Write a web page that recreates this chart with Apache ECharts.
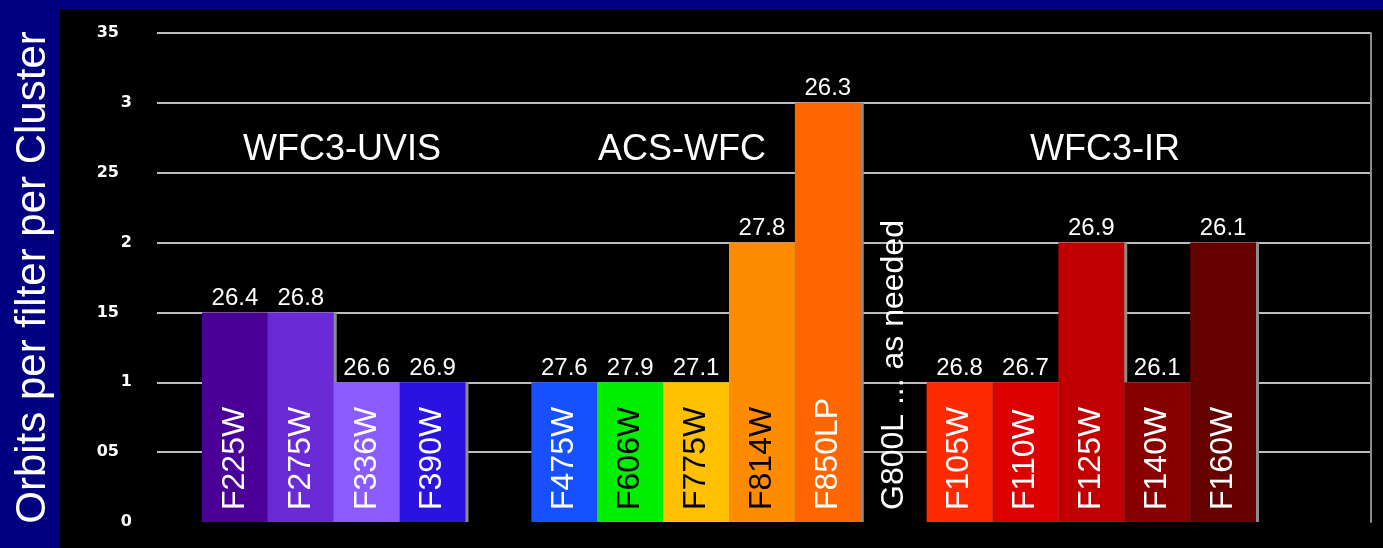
<!DOCTYPE html>
<html><head><meta charset="utf-8">
<script src="https://cdn.jsdelivr.net/npm/echarts@6/dist/echarts.min.js"></script>
<style>html,body{margin:0;padding:0;background:#000080;}#c{width:1383px;height:548px;}</style>
</head><body><div id="c"></div>
<script>
// ---- data ----
const categories = ['F225W','F275W','F336W','F390W','','F475W','F606W','F775W','F814W','F850LP','G800L','F105W','F110W','F125W','F140W','F160W'];
const orbits = [1.5,1.5,1,1,null,1,1,1,2,3,0,1,1,2,1,2];
const magnitudes = ['26.4','26.8','26.6','26.9','','27.6','27.9','27.1','27.8','26.3','','26.8','26.7','26.9','26.1','26.1'];
const innerLabels = ['F225W','F275W','F336W','F390W','','F475W','F606W','F775W','F814W','F850LP','G800L ... as needed','F105W','F110W','F125W','F140W','F160W'];
const darkTextFilters = ['F606W','F775W','F814W'];
const barColors = ['#4a0096','#6a2bd6','#8a5cff','#2a12e0','#000','#1650ff','#00ee00','#ffc000','#ff8c00','#ff6600','#000','#ff2a00','#dc0000','#c00000','#880000','#640000'];
const groupTitles = ['WFC3-UVIS','ACS-WFC','WFC3-IR'];
const yAxisTitle = 'Orbits per filter per Cluster';
const yMin = 0, yMax = 3.5, yStep = 0.5;

const FONT = "'Liberation Sans', Arial, sans-serif";
const titleX = [342, 682, 1105];
const tickFont = {color: '#ffffff', fontFamily: 'DejaVu Sans', fontWeight: 'bold', fontSize: 16};

const chart = echarts.init(document.getElementById('c'), null, {renderer: 'canvas'});
const option = {
  backgroundColor: '#000080',
  animation: false,
  graphic: [
    {type: 'rect', z: -100, silent: true, shape: {x: 60, y: 9, width: 1323, height: 539}, style: {fill: '#000000'}}
  ].concat(groupTitles.map((t, i) => ({
    type: 'text', z: 50, x: titleX[i], y: 150,
    style: {text: t, fill: '#ffffff', font: '36px ' + FONT, align: 'center', verticalAlign: 'middle'}
  }))),
  grid: [
    {left: 157, right: 12, top: 33, bottom: 26},
    {left: 202, width: 1054, top: 33, bottom: 26}
  ],
  xAxis: [
    {gridIndex: 0, type: 'category', data: [''], show: false},
    {gridIndex: 1, type: 'category', data: categories, show: false}
  ],
  yAxis: [
    {gridIndex: 0, type: 'value', min: yMin, max: yMax, interval: yStep,
     axisLine: {show: false}, axisTick: {show: false},
     splitLine: {show: true, showMinLine: false, lineStyle: {color: '#bdbdbd', width: 2}},
     axisLabel: Object.assign({}, tickFont, {margin: 25,
                 formatter: v => {
                   const s = String(v).replace('.', '');
                   return s.length > 1 ? '{two|' + s + '}' : '{one|' + s + '}';
                 },
                 rich: {one: Object.assign({}, tickFont), two: Object.assign({padding: [0, 13, 0, 0]}, tickFont)}}),
     name: yAxisTitle, nameLocation: 'middle', nameGap: 103,
     nameTextStyle: {color: '#ffffff', fontSize: 42, fontFamily: FONT}},
    {gridIndex: 0, type: 'value', position: 'right', min: yMin, max: yMax, interval: yStep,
     axisLine: {show: true, lineStyle: {color: '#8a8a8a', width: 2}}, axisTick: {show: false},
     axisLabel: {show: false}, splitLine: {show: false}},
    {gridIndex: 1, type: 'value', min: yMin, max: yMax, interval: yStep, show: false, splitLine: {show: false}}
  ],
  series: [
    {
      type: 'bar', xAxisIndex: 1, yAxisIndex: 2, barCategoryGap: '0%', barGap: '-100%',
      itemStyle: {shadowColor: '#8c8c8c', shadowOffsetX: 3, shadowOffsetY: 0, shadowBlur: 0},
      emphasis: {disabled: true},
      label: {show: true, position: 'top', distance: 2, color: '#ffffff', fontSize: 24, fontFamily: FONT,
              formatter: p => magnitudes[p.dataIndex]},
      data: orbits.map((v, i) => ({value: v, itemStyle: {color: barColors[i]}}))
    },
    {
      type: 'bar', xAxisIndex: 1, yAxisIndex: 2, barCategoryGap: '0%', barGap: '-100%',
      itemStyle: {color: 'rgba(0,0,0,0)'},
      emphasis: {disabled: true},
      label: {show: true, position: 'insideBottom', distance: 12, rotate: 90, align: 'left', verticalAlign: 'middle',
              fontSize: 32, fontFamily: FONT,
              formatter: p => innerLabels[p.dataIndex]},
      data: orbits.map((v, i) => ({value: v, label: {color: darkTextFilters.includes(categories[i]) ? '#000000' : '#ffffff'}}))
    }
  ]
};
chart.setOption(option);
</script></body></html>
